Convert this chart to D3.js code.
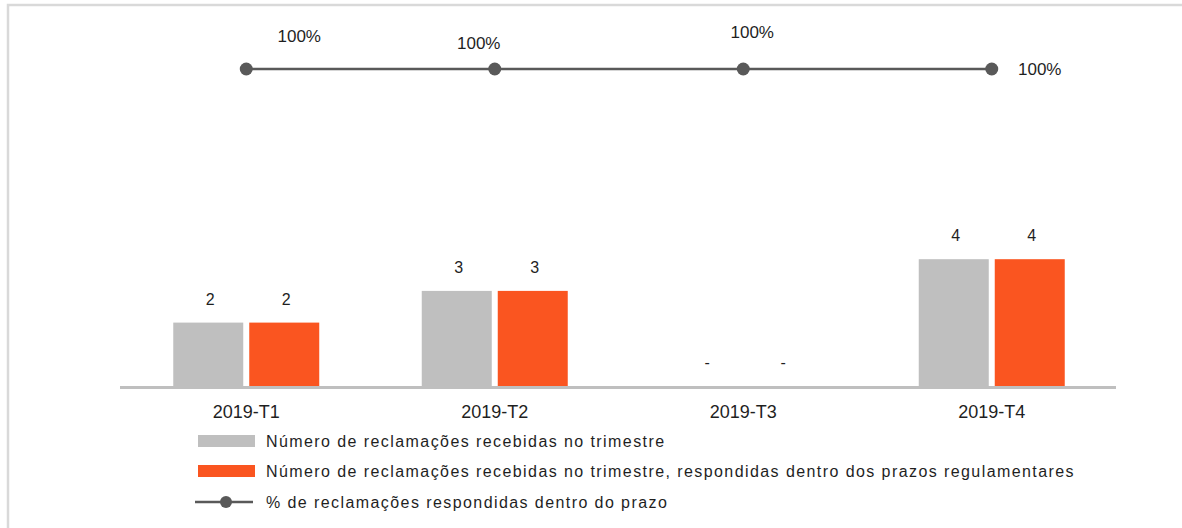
<!DOCTYPE html>
<html>
<head>
<meta charset="utf-8">
<script src="https://cdn.jsdelivr.net/npm/d3@7"></script>
<style>
  html, body { margin: 0; padding: 0; background: #fff; overflow: hidden; }
  svg { display: block; font-family: "Liberation Sans", Arial, sans-serif; }
</style>
</head>
<body>
<svg id="chart" width="1182" height="528"></svg>
<script>
// Quarterly complaints data
const quarters = ["2019-T1", "2019-T2", "2019-T3", "2019-T4"];
const received = [2, 3, 0, 4];
const answeredOnTime = [2, 3, 0, 4];
const pctOnTime = [1, 1, 1, 1];
const seriesNames = [
  "Número de reclamações recebidas no trimestre",
  "Número de reclamações recebidas no trimestre, respondidas dentro dos prazos regulamentares",
  "% de reclamações respondidas dentro do prazo"
];

const colors = { received: "#bfbfbf", onTime: "#fa5520", line: "#595959", text: "#1f1f1f" };

const svg = d3.select("#chart");

// frame: only top and left edges fall inside the view
svg.append("path")
  .attr("d", "M8,600V5H1200")
  .attr("fill", "none").attr("stroke", "#d9d9d9").attr("stroke-width", 2.5);

const plot = { left: 122, right: 1116, top: 69, bottom: 386 };

const x0 = d3.scaleBand().domain(quarters)
  .range([plot.left, plot.right]).paddingInner(0.4125).paddingOuter(0.20625);
const x1 = d3.scaleBand().domain(["received", "onTime"])
  .range([0, x0.bandwidth()]).paddingInner(6 / 76);
const y = d3.scaleLinear().domain([0, 10]).range([plot.bottom, plot.top]);
const y2 = d3.scaleLinear().domain([0, 1]).range([plot.bottom, plot.top]);

const rows = quarters.map((q, i) => ({ q, received: received[i], onTime: answeredOnTime[i], pct: pctOnTime[i] }));

// bars
const groups = svg.append("g").selectAll("g").data(rows).join("g")
  .attr("transform", d => `translate(${x0(d.q)},0)`);

["received", "onTime"].forEach(key => {
  groups.append("rect")
    .attr("x", x1(key)).attr("width", x1.bandwidth())
    .attr("y", d => y(d[key])).attr("height", d => y(0) - y(d[key]))
    .attr("fill", colors[key]);
  groups.append("text")
    .attr("x", x1(key) + x1.bandwidth() / 2 + 2)
    .attr("y", d => y(d[key]) - 18)
    .attr("text-anchor", "middle")
    .attr("font-size", 16).attr("fill", colors.text)
    .text(d => d[key] === 0 ? "-" : d3.format("d")(d[key]));
});

// category axis
const xAxis = d3.axisBottom(x0).tickSize(0).tickPadding(18);
const axisG = svg.append("g").attr("transform", `translate(0,${plot.bottom + 1.5})`).call(xAxis);
axisG.select(".domain").attr("stroke", "#bfbfbf").attr("stroke-width", 3)
  .attr("d", `M${plot.left - 2},0H${plot.right}`);
axisG.selectAll(".tick text")
  .attr("font-size", 18).attr("fill", colors.text)
  .attr("font-family", "Liberation Sans, Arial, sans-serif");

// percentage line
const cx = d => x0(d.q) + x0.bandwidth() / 2;
const line = d3.line().x(cx).y(d => y2(d.pct));
svg.append("path").datum(rows)
  .attr("d", line).attr("fill", "none")
  .attr("stroke", colors.line).attr("stroke-width", 2.5);
svg.append("g").selectAll("circle").data(rows).join("circle")
  .attr("cx", cx).attr("cy", d => y2(d.pct)).attr("r", 6.5)
  .attr("fill", colors.line);

// percentage labels, each nudged off its marker
const pctLabelOffsets = [[53, -33], [-16, -26], [9, -37], [48, 0]];
svg.append("g").selectAll("text").data(rows).join("text")
  .attr("x", (d, i) => cx(d) + pctLabelOffsets[i][0])
  .attr("y", (d, i) => y2(d.pct) + pctLabelOffsets[i][1])
  .attr("dy", "0.35em")
  .attr("text-anchor", "middle")
  .attr("font-size", 17).attr("fill", colors.text)
  .text(d => d3.format(".0%")(d.pct));

// legend
const legend = svg.append("g").attr("transform", "translate(198,0)");
const legendRows = [
  { name: seriesNames[0], kind: "rect", color: colors.received, yc: 441 },
  { name: seriesNames[1], kind: "rect", color: colors.onTime, yc: 471 },
  { name: seriesNames[2], kind: "line", color: colors.line, yc: 502 }
];
legendRows.forEach(r => {
  if (r.kind === "rect") {
    legend.append("rect").attr("x", 0).attr("y", r.yc - 6).attr("width", 57).attr("height", 12).attr("fill", r.color);
  } else {
    legend.append("line").attr("x1", -3).attr("x2", 55).attr("y1", r.yc).attr("y2", r.yc)
      .attr("stroke", r.color).attr("stroke-width", 2.5);
    legend.append("circle").attr("cx", 28).attr("cy", r.yc).attr("r", 6).attr("fill", r.color);
  }
  legend.append("text")
    .attr("x", 68).attr("y", r.yc).attr("dy", "0.36em")
    .attr("font-size", 16).attr("letter-spacing", "1.42px")
    .attr("fill", colors.text)
    .text(r.name);
});
</script>
</body>
</html>
